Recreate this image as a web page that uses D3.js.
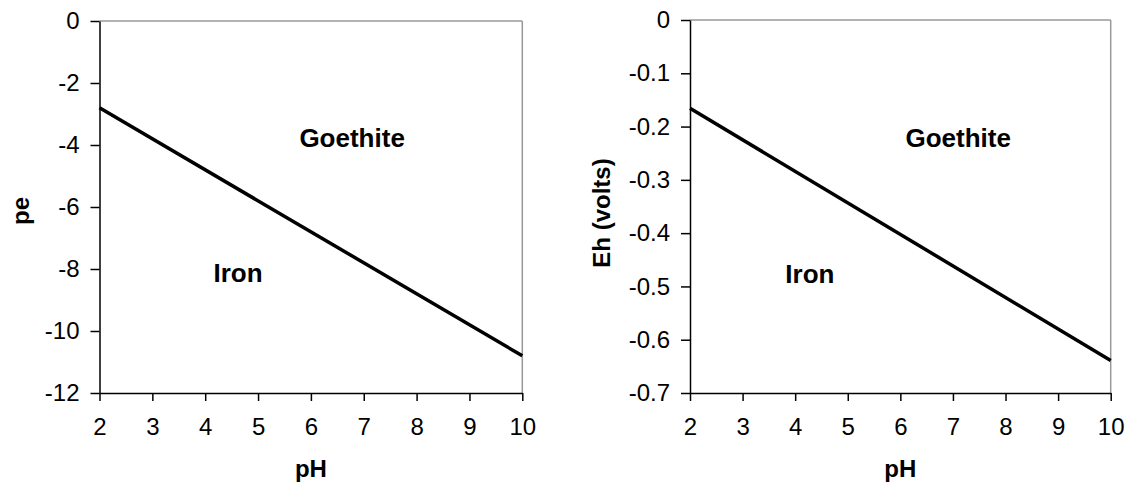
<!DOCTYPE html>
<html>
<head>
<meta charset="utf-8">
<script src="https://cdn.jsdelivr.net/npm/d3@7/dist/d3.min.js"></script>
<style>
  body { margin: 0; background: #fff; }
  svg text { font-family: "Liberation Sans", Arial, sans-serif; fill: #000; }
</style>
</head>
<body>
<svg id="chart" width="1125" height="482"></svg>
<script>
// boundary Iron / Goethite, pe = -0.8 - pH ; Eh = 0.05916 * pe
var phValues = [2, 10];
var peValues = [-2.8, -10.8];
var ehValues = [-0.1657, -0.639];
var xTicks = [2, 3, 4, 5, 6, 7, 8, 9, 10];
var peTicks = [0, -2, -4, -6, -8, -10, -12];
var ehTicks = [0, -0.1, -0.2, -0.3, -0.4, -0.5, -0.6, -0.7];
var peRegions = [{name: "Goethite", ph: 6.78, y: -4.06}, {name: "Iron", ph: 4.62, y: -8.42}];
var ehRegions = [{name: "Goethite", ph: 7.1, y: -0.238}, {name: "Iron", ph: 4.28, y: -0.493}];

var svg = d3.select("#chart");

function drawPanel(opts) {
  var x = d3.scaleLinear().domain([2, 10]).range([opts.left, opts.right]);
  var y = d3.scaleLinear().domain(opts.yDomain).range([opts.top, opts.bottom]);
  var g = svg.append("g");

  // top and right frame in gray
  g.append("line")
      .attr("x1", opts.left).attr("x2", opts.right)
      .attr("y1", opts.top).attr("y2", opts.top)
      .attr("stroke", "#999").attr("stroke-width", 1.5);
  g.append("line")
      .attr("x1", opts.right).attr("x2", opts.right)
      .attr("y1", opts.top).attr("y2", opts.bottom)
      .attr("stroke", "#999").attr("stroke-width", 1.5);

  g.append("g")
      .attr("transform", "translate(0," + opts.bottom + ")")
      .call(d3.axisBottom(x).tickValues(xTicks).tickSize(8).tickPadding(17).tickSizeOuter(0));
  g.append("g")
      .attr("transform", "translate(" + opts.left + ",0)")
      .call(d3.axisLeft(y).tickValues(opts.ticks).tickSize(9).tickPadding(11).tickSizeOuter(0)
        .tickFormat(opts.fmt));
  g.selectAll(".domain, .tick line").attr("stroke", "#000").attr("stroke-width", 1.5);
  g.selectAll(".tick text").attr("font-size", 24).attr("font-family", "Liberation Sans, Arial, sans-serif");

  g.append("path")
      .datum(d3.zip(phValues, opts.values))
      .attr("fill", "none")
      .attr("stroke", "#000")
      .attr("stroke-width", 3.5)
      .attr("d", d3.line().x(d => x(d[0])).y(d => y(d[1])));

  g.selectAll("text.region")
      .data(opts.regions)
      .join("text")
      .attr("class", "region")
      .attr("x", d => x(d.ph))
      .attr("y", d => y(d.y))
      .attr("text-anchor", "middle")
      .attr("font-size", 26)
      .attr("font-weight", "bold")
      .text(d => d.name);

  g.append("text")
      .attr("x", (opts.left + opts.right) / 2)
      .attr("y", 477)
      .attr("text-anchor", "middle")
      .attr("font-size", 24)
      .attr("font-weight", "bold")
      .text("pH");

  g.append("text")
      .attr("transform", "translate(" + opts.labelX + "," + opts.labelY + ") rotate(-90)")
      .attr("text-anchor", "middle")
      .attr("font-size", 24)
      .attr("font-weight", "bold")
      .text(opts.label);
}

// hyphen-minus like the reference, not the unicode minus
function hyph(f) { return d => f(d).replace("\u2212", "-"); }

drawPanel({
  left: 99.5, right: 522.3, top: 21, bottom: 393,
  yDomain: [0, -12], ticks: peTicks, fmt: hyph(d3.format("d")),
  values: peValues, regions: peRegions,
  label: "pe", labelX: 29, labelY: 211
});

drawPanel({
  left: 690, right: 1110.7, top: 20, bottom: 393,
  yDomain: [0, -0.7], ticks: ehTicks, fmt: hyph(d => d === 0 ? "0" : d3.format(".1f")(d)),
  values: ehValues, regions: ehRegions,
  label: "Eh (volts)", labelX: 610, labelY: 213
});
</script>
</body>
</html>
